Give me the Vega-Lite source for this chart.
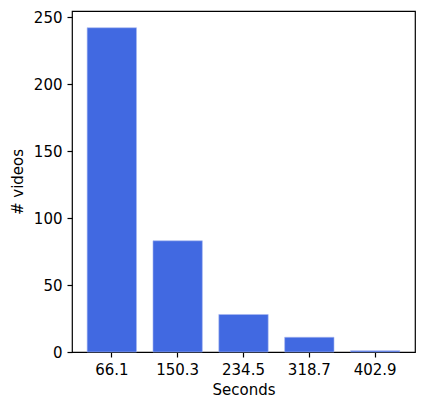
{
  "$schema": "https://vega.github.io/schema/vega-lite/v6.json",
  "width": 343,
  "height": 341,
  "autosize": "none",
  "padding": {"left": 72, "top": 11, "right": 11, "bottom": 58},
  "background": "white",
  "config": {
    "font": "DejaVu Sans",
    "view": {"stroke": "black", "strokeWidth": 1.2},
    "axis": {
      "domain": false,
      "grid": false,
      "tickColor": "black",
      "tickSize": 5,
      "tickWidth": 1.2,
      "labelColor": "black",
      "labelFontSize": 15,
      "labelFont": "DejaVu Sans",
      "titleFont": "DejaVu Sans",
      "titleFontSize": 15,
      "titleFontWeight": "normal",
      "titleColor": "black",
      "labelPadding": 5
    }
  },
  "data": {
    "values": [
      {"sec": "66.1", "count": 242},
      {"sec": "150.3", "count": 83},
      {"sec": "234.5", "count": 28},
      {"sec": "318.7", "count": 11},
      {"sec": "402.9", "count": 1}
    ]
  },
  "mark": {"type": "bar", "color": "#4169E1", "stroke": "#a9b8f0", "strokeWidth": 0.6},
  "encoding": {
    "x": {
      "field": "sec",
      "type": "ordinal",
      "sort": null,
      "title": "Seconds",
      "scale": {"paddingInner": 0.25, "paddingOuter": 0.23},
      "axis": {"labelAngle": 0, "titlePadding": 5}
    },
    "y": {
      "field": "count",
      "type": "quantitative",
      "title": "# videos",
      "scale": {"domain": [0, 254.5], "nice": false, "zero": true},
      "axis": {"values": [0, 50, 100, 150, 200, 250], "titlePadding": 8}
    }
  }
}
